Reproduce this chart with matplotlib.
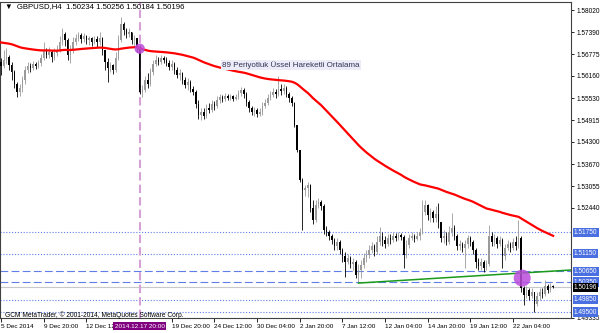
import matplotlib
matplotlib.use('Agg')
import matplotlib.pyplot as plt
import matplotlib.transforms as mtransforms
import numpy as np

plt.rcParams['font.family'] = ['Liberation Sans', 'DejaVu Sans']

# GBPUSD H4 candles
first_open = 1.5655
closes = [
    1.5644, 1.5661, 1.5669, 1.5647, 1.5627, 1.5593, 1.5571, 1.5582, 1.5605, 1.5633,
    1.5644, 1.5638, 1.5650, 1.5644, 1.5653, 1.5667, 1.5689, 1.5675, 1.5684, 1.5669,
    1.5681, 1.5689, 1.5712, 1.5734, 1.5717, 1.5675, 1.5689, 1.5712, 1.5723, 1.5732,
    1.5720, 1.5729, 1.5717, 1.5723, 1.5712, 1.5720, 1.5712, 1.5723, 1.5689, 1.5655,
    1.5638, 1.5647, 1.5633, 1.5667, 1.5717, 1.5763, 1.5746, 1.5734, 1.5740, 1.5717,
    1.5723, 1.5695, 1.5571, 1.5576, 1.5605, 1.5593, 1.5627, 1.5650, 1.5661, 1.5655,
    1.5667, 1.5661, 1.5653, 1.5641, 1.5650, 1.5633, 1.5619, 1.5624, 1.5605, 1.5590,
    1.5599, 1.5579, 1.5571, 1.5537, 1.5506, 1.5514, 1.5503, 1.5526, 1.5520, 1.5537,
    1.5531, 1.5548, 1.5557, 1.5551, 1.5560, 1.5554, 1.5560, 1.5551, 1.5557, 1.5568,
    1.5576, 1.5565, 1.5543, 1.5526, 1.5514, 1.5520, 1.5509, 1.5514, 1.5531, 1.5540,
    1.5554, 1.5562, 1.5571, 1.5565, 1.5579, 1.5574, 1.5582, 1.5565, 1.5554, 1.5540,
    1.5478, 1.5407, 1.5323, 1.5294, 1.5300, 1.5309, 1.5244, 1.5210, 1.5252, 1.5261,
    1.5249, 1.5182, 1.5176, 1.5165, 1.5153, 1.5136, 1.5148, 1.5125, 1.5108, 1.5091,
    1.5103, 1.5086, 1.5091, 1.5055, 1.5069, 1.5083, 1.5103, 1.5111, 1.5125, 1.5136,
    1.5120, 1.5148, 1.5165, 1.5153, 1.5142, 1.5159, 1.5153, 1.5165, 1.5159, 1.5168,
    1.5162, 1.5111, 1.5139, 1.5159, 1.5165, 1.5156, 1.5165, 1.5176, 1.5232, 1.5252,
    1.5224, 1.5232, 1.5215, 1.5227, 1.5204, 1.5159, 1.5165, 1.5148, 1.5176, 1.5187,
    1.5165, 1.5136, 1.5142, 1.5131, 1.5142, 1.5159, 1.5148, 1.5125, 1.5091, 1.5080,
    1.5091, 1.5074, 1.5086, 1.5165, 1.5148, 1.5159, 1.5142, 1.5153, 1.5108, 1.5131,
    1.5142, 1.5131, 1.5148, 1.5136, 1.5159, 1.5018, 1.4998, 1.5012, 1.4996, 1.5007,
    1.4973, 1.4996, 1.5007, 1.5001, 1.5024, 1.5012, 1.5023, 1.50196,
]
highs = [
    1.5667, 1.5689, 1.5695, 1.5675, 1.5655, 1.5633, 1.5599, 1.5593, 1.5616, 1.5644,
    1.5655, 1.5653, 1.5658, 1.5655, 1.5661, 1.5678, 1.5712, 1.5695, 1.5698, 1.5689,
    1.5695, 1.5703, 1.5729, 1.5751, 1.5740, 1.5723, 1.5703, 1.5726, 1.5734, 1.5740,
    1.5737, 1.5737, 1.5732, 1.5729, 1.5726, 1.5729, 1.5729, 1.5740, 1.5726, 1.5689,
    1.5667, 1.5655, 1.5650, 1.5684, 1.5732, 1.5782, 1.5768, 1.5751, 1.5751, 1.5740,
    1.5732, 1.5723, 1.5703, 1.5590, 1.5616, 1.5624, 1.5638, 1.5661, 1.5675, 1.5669,
    1.5675, 1.5672, 1.5669, 1.5661, 1.5661, 1.5655, 1.5641, 1.5636, 1.5627, 1.5613,
    1.5610, 1.5605, 1.5588, 1.5576, 1.5548, 1.5526, 1.5526, 1.5537, 1.5540, 1.5548,
    1.5545, 1.5560, 1.5565, 1.5562, 1.5568, 1.5565, 1.5565, 1.5562, 1.5565, 1.5576,
    1.5585, 1.5582, 1.5571, 1.5548, 1.5531, 1.5528, 1.5526, 1.5526, 1.5543, 1.5551,
    1.5565, 1.5574, 1.5582, 1.5579, 1.5616, 1.5593, 1.5593, 1.5588, 1.5571, 1.5560,
    1.5543, 1.5478, 1.5407, 1.5328, 1.5309, 1.5317, 1.5312, 1.5266, 1.5266, 1.5272,
    1.5266, 1.5255, 1.5193, 1.5182, 1.5170, 1.5159, 1.5159, 1.5153, 1.5131, 1.5120,
    1.5114, 1.5108, 1.5103, 1.5097, 1.5086, 1.5097, 1.5117, 1.5125, 1.5139, 1.5148,
    1.5142, 1.5165, 1.5190, 1.5176, 1.5165, 1.5170, 1.5170, 1.5176, 1.5173, 1.5176,
    1.5173, 1.5168, 1.5153, 1.5170, 1.5176, 1.5170, 1.5176, 1.5187, 1.5266, 1.5266,
    1.5255, 1.5244, 1.5238, 1.5249, 1.5258, 1.5204, 1.5182, 1.5176, 1.5193, 1.5230,
    1.5196, 1.5170, 1.5153, 1.5148, 1.5153, 1.5168, 1.5165, 1.5153, 1.5131, 1.5103,
    1.5103, 1.5097, 1.5097, 1.5196, 1.5176, 1.5170, 1.5165, 1.5165, 1.5159, 1.5142,
    1.5153, 1.5148, 1.5159, 1.5165, 1.5210, 1.5165, 1.5024, 1.5024, 1.5018, 1.5018,
    1.5007, 1.5007, 1.5018, 1.5018, 1.5041, 1.5029, 1.5032, 1.50256,
]
lows = [
    1.5619, 1.5638, 1.5650, 1.5633, 1.5605, 1.5582, 1.5557, 1.5560, 1.5571, 1.5593,
    1.5624, 1.5627, 1.5633, 1.5636, 1.5638, 1.5644, 1.5661, 1.5667, 1.5667, 1.5655,
    1.5661, 1.5672, 1.5684, 1.5703, 1.5700, 1.5661, 1.5653, 1.5681, 1.5703, 1.5715,
    1.5709, 1.5712, 1.5706, 1.5703, 1.5700, 1.5706, 1.5698, 1.5703, 1.5675, 1.5633,
    1.5599, 1.5627, 1.5622, 1.5627, 1.5661, 1.5712, 1.5732, 1.5723, 1.5726, 1.5706,
    1.5700, 1.5684, 1.5565, 1.5557, 1.5571, 1.5582, 1.5588, 1.5619, 1.5644, 1.5647,
    1.5650, 1.5653, 1.5644, 1.5633, 1.5633, 1.5622, 1.5610, 1.5605, 1.5593, 1.5582,
    1.5576, 1.5571, 1.5562, 1.5526, 1.5495, 1.5492, 1.5495, 1.5497, 1.5512, 1.5514,
    1.5520, 1.5526, 1.5540, 1.5543, 1.5545, 1.5548, 1.5548, 1.5545, 1.5548, 1.5551,
    1.5560, 1.5554, 1.5531, 1.5514, 1.5506, 1.5503, 1.5500, 1.5503, 1.5506, 1.5526,
    1.5534, 1.5548, 1.5557, 1.5554, 1.5560, 1.5562, 1.5565, 1.5557, 1.5543, 1.5531,
    1.5472, 1.5402, 1.5317, 1.5182, 1.5278, 1.5275, 1.5232, 1.5199, 1.5204, 1.5244,
    1.5238, 1.5170, 1.5165, 1.5153, 1.5142, 1.5125, 1.5125, 1.5114, 1.5091, 1.5049,
    1.5086, 1.5074, 1.5069, 1.5046, 1.5032, 1.5046, 1.5074, 1.5091, 1.5103, 1.5117,
    1.5108, 1.5114, 1.5139, 1.5136, 1.5131, 1.5136, 1.5142, 1.5148, 1.5151, 1.5153,
    1.5153, 1.5074, 1.5103, 1.5131, 1.5153, 1.5148, 1.5153, 1.5153, 1.5170, 1.5224,
    1.5210, 1.5204, 1.5204, 1.5204, 1.5187, 1.5148, 1.5145, 1.5139, 1.5142, 1.5165,
    1.5153, 1.5125, 1.5125, 1.5120, 1.5074, 1.5131, 1.5136, 1.5114, 1.5074, 1.5069,
    1.5069, 1.5063, 1.5069, 1.5080, 1.5136, 1.5136, 1.5131, 1.5136, 1.5074, 1.5097,
    1.5125, 1.5120, 1.5125, 1.5125, 1.5131, 1.5007, 1.4970, 1.4990, 1.4984, 1.4990,
    1.4950, 1.4967, 1.4984, 1.4990, 1.4996, 1.5004, 1.5007, 1.50184,
]

ema_period = 89
ema_seed = 1.5712

tick_pos = [0, 16, 32, 64, 80, 96, 112, 128, 144, 160, 176, 192]
tick_labels = ['5 Dec 2014', '9 Dec 20:00', '12 Dec 12:00', '19 Dec 20:00',
               '24 Dec 12:00', '30 Dec 04:00', '2 Jan 20:00', '7 Jan 12:00',
               '12 Jan 04:00', '14 Jan 20:00', '19 Jan 12:00', '22 Jan 04:00']
price_ticks = [1.58020, 1.57390, 1.56775, 1.56160, 1.55530, 1.54915, 1.54300,
               1.53670, 1.53055, 1.52440, 1.49335]

vline_bar = 52
vline_label = '2014.12.17 20:00'
dotted_levels = [1.51750, 1.51150, 1.49850, 1.49500]
dashed_levels = [1.50650, 1.50350]
bid = 1.50196
trend_bars = [134, 214]
trend_prices = [1.5032, 1.5069]
marks_bars = [52, 195.4]
marks_prices = [1.5693, 1.5046]

closes = np.array(closes)
highs = np.array(highs)
lows = np.array(lows)
opens = np.concatenate([[first_open], closes[:-1]])
highs = np.maximum(highs, np.maximum(opens, closes))
lows = np.minimum(lows, np.minimum(opens, closes))
bars = np.arange(len(closes))

k = 2.0 / (ema_period + 1)
ema = []
prev = ema_seed
for c in closes:
    prev = prev + k * (c - prev)
    ema.append(prev)

fig = plt.figure(figsize=(6, 3.33), dpi=100)
fig.patch.set_facecolor('white')
ax = fig.add_axes([0.0, 1 - 318 / 333, 571 / 600, 316 / 333])
ax.set_xlim(-0.375, 213.7)
ax.set_ylim(1.49335, 1.58246)

lc = '#5f7ee8'
for lv in dotted_levels:
    ax.axhline(lv, color=lc, lw=0.8, ls=(0, (1, 1.6)), zorder=1)
for lv in dashed_levels:
    ax.axhline(lv, color=lc, lw=0.8, ls=(0, (7, 3)), zorder=1)
ax.axhline(bid, color='#c8c8c8', lw=0.8, zorder=1)
ax.axvline(vline_bar, color='#d6a2d6', lw=1.5, ls=(0, (4, 2)), zorder=1)

up = closes >= opens
cols = np.where(up, '#9a9a9a', '#000000')
ax.vlines(bars, lows, highs, colors=cols, lw=0.6, zorder=3)
body = np.maximum(np.abs(closes - opens), 0.00012)
ax.bar(bars, body, bottom=np.minimum(opens, closes), width=0.6,
       color=cols, linewidth=0, zorder=3)

ax.plot(bars, ema, color='#ff0000', lw=1.6, zorder=4)
ax.plot(trend_bars, trend_prices, color='#1a9a1a', lw=1.1, zorder=4)
ax.scatter(marks_bars, marks_prices, s=[55, 150], color='#bb4cdc', alpha=0.85,
           linewidths=0, zorder=5)

ax.text(83, 1.5647, '89 Periyotluk Üssel Hareketli Ortalama', fontsize=5.8,
        color='#333355', va='center', ha='left', zorder=6,
        bbox=dict(facecolor='#ececf8', edgecolor='none', pad=1.0))

for sp in ax.spines.values():
    sp.set_color('#404040')
    sp.set_linewidth(0.8)

ax.yaxis.tick_right()
ax.set_yticks(price_ticks)
ax.set_yticklabels([f'{v:.5f}' for v in price_ticks])
ax.tick_params(axis='y', length=2.5, width=0.6, labelsize=4.7, pad=1.2,
               colors='#000000')
ax.set_xticks(tick_pos)
ax.set_xticklabels(tick_labels)
ax.tick_params(axis='x', length=3, width=0.6, labelsize=4.6, pad=1,
               direction='out')
for lab in ax.get_xticklabels():
    lab.set_horizontalalignment('left')

# price boxes on the right scale
tr = mtransforms.blended_transform_factory(ax.transAxes, ax.transData)
for lv in sorted(dotted_levels + dashed_levels, reverse=True):
    ax.text(1.005, lv, f'{lv:.5f}', transform=tr, fontsize=4.7, color='white',
            va='center', ha='left', zorder=7, clip_on=False,
            bbox=dict(facecolor='#4a6fe0', edgecolor='none', pad=0.9))
ax.text(1.005, bid, f'{bid:.5f}', transform=tr, fontsize=4.7, color='white',
        va='center', ha='left', zorder=8, clip_on=False,
        bbox=dict(facecolor='#000000', edgecolor='none', pad=0.9))

# vertical line time box
trx = mtransforms.blended_transform_factory(ax.transData, ax.transAxes)
ax.text(vline_bar, -0.026, vline_label, transform=trx, fontsize=4.6,
        color='white', ha='center', va='center', zorder=9, clip_on=False,
        bbox=dict(facecolor='#800080', edgecolor='none', pad=0.9))

fig.text(5 / 600, 1 - 7 / 333, '\u25bc  GBPUSD,H4  1.50234 1.50256 1.50184 1.50196',
         fontsize=5.6, color='#000000', va='center', ha='left')
ax.text(1.5, 1.4941, 'GCM MetaTrader, \u00a9 2001-2014, MetaQuotes Software Corp.',
        fontsize=4.8, color='#000000', va='center', ha='left', zorder=6)

fig.savefig('out.png', dpi=100, facecolor='white')
